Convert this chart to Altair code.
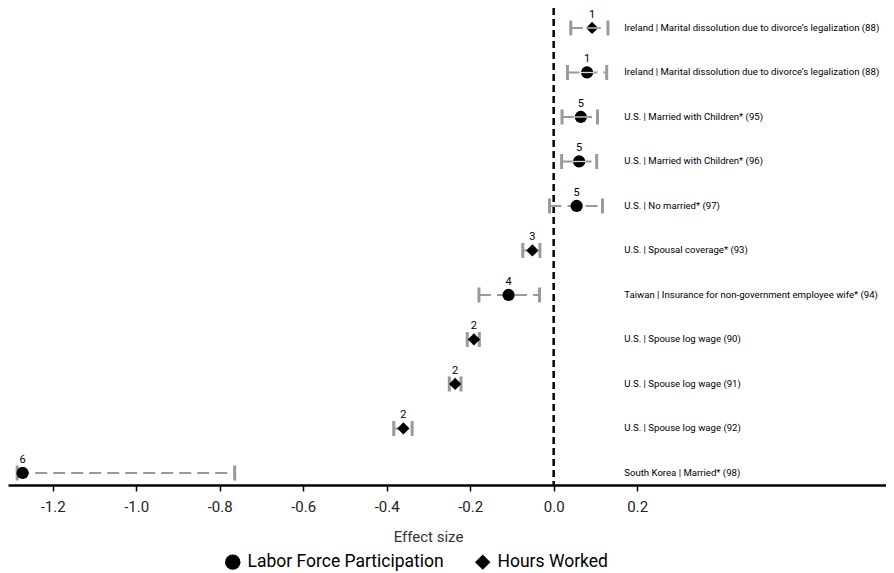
import altair as alt
import pandas as pd

# ---- data (top to bottom) ----
rows = [1, 2, 3, 4, 5, 6, 7, 8, 9, 10, 11]
studies = [
    "Ireland | Marital dissolution due to divorce\u2019s legalization (88)",
    "Ireland | Marital dissolution due to divorce\u2019s legalization (88)",
    "U.S. | Married with Children* (95)",
    "U.S. | Married with Children* (96)",
    "U.S. | No married* (97)",
    "U.S. | Spousal coverage* (93)",
    "Taiwan | Insurance for non-government employee wife* (94)",
    "U.S. | Spouse log wage (90)",
    "U.S. | Spouse log wage (91)",
    "U.S. | Spouse log wage (92)",
    "South Korea | Married* (98)",
]
outcomes = [
    "Hours Worked", "Labor Force Participation", "Labor Force Participation",
    "Labor Force Participation", "Labor Force Participation", "Hours Worked",
    "Labor Force Participation", "Hours Worked", "Hours Worked", "Hours Worked",
    "Labor Force Participation",
]
effects = [0.092, 0.080, 0.065, 0.061, 0.055, -0.051, -0.108, -0.191, -0.236, -0.360, -1.272]
lowers = [0.041, 0.033, 0.020, 0.019, -0.010, -0.074, -0.179, -0.207, -0.250, -0.383, -1.285]
uppers = [0.130, 0.127, 0.105, 0.103, 0.117, -0.033, -0.034, -0.178, -0.222, -0.339, -0.764]
counts = ["1", "1", "5", "5", "5", "3", "4", "2", "2", "2", "6"]
x_ticks = [-1.2, -1.0, -0.8, -0.6, -0.4, -0.2, 0.0, 0.2]
legend_order = ["Labor Force Participation", "Hours Worked"]
label_x = 0.169

df = pd.DataFrame({
    "row": rows, "study": studies, "outcome": outcomes, "effect": effects,
    "lower": lowers, "upper": uppers, "count": counts,
})
df["label_x"] = label_x
zero_df = pd.DataFrame({"zero": [0.0]})

FONT = "Roboto, sans-serif"
GRAY = "#9a9a9a"

xscale = alt.Scale(domain=[-1.307, 0.796], nice=False, zero=False)
yscale = alt.Scale(domain=[0.551, 11.27], reverse=True, nice=False, zero=False)

xaxis = alt.Axis(
    values=x_ticks,
    labelExpr="datum.value < 0 ? '-' + format(-datum.value, '.1f') : format(datum.value, '.1f')",
    title="Effect size", grid=False,
    domainColor="black", domainWidth=2.5,
    tickColor="black", tickWidth=1.5, tickSize=6,
    labelFontSize=15, labelFont=FONT, labelColor="#222", labelPadding=8,
    titleFontSize=15, titleFont=FONT, titleFontWeight="normal", titleColor="#333",
    titleX=420, titleY=51, titleBaseline="middle", titleAlign="center",
)

base = alt.Chart(df)
Y = alt.Y("row:Q", scale=yscale, axis=None)

zero_line = alt.Chart(zero_df).mark_rule(
    color="black", strokeWidth=2.5, strokeDash=[7, 4]
).encode(x=alt.X("zero:Q", scale=xscale, axis=xaxis))

whisker = base.mark_rule(color=GRAY, strokeWidth=2, strokeDash=[12, 6]).encode(
    x=alt.X("lower:Q", scale=xscale), x2="upper:Q", y=Y
)
cap_lo = base.mark_tick(orient="vertical", thickness=3, size=15, color=GRAY, opacity=1).encode(
    x=alt.X("lower:Q", scale=xscale), y=Y
)
cap_hi = base.mark_tick(orient="vertical", thickness=3, size=15, color=GRAY, opacity=1).encode(
    x=alt.X("upper:Q", scale=xscale), y=Y
)
points = base.mark_point(filled=True, opacity=1, color="black", size=150).encode(
    x=alt.X("effect:Q", scale=xscale),
    y=Y,
    shape=alt.Shape(
        "outcome:N",
        scale=alt.Scale(domain=legend_order, range=["circle", "diamond"]),
        legend=alt.Legend(
            title=None, orient="none", legendX=216, legendY=545,
            direction="horizontal", symbolSize=240,
            symbolFillColor="black", symbolStrokeColor="black", symbolStrokeWidth=0,
            labelFontSize=17.5, labelFont=FONT, labelColor="black", labelLimit=400,
            columnPadding=30, labelOffset=6, padding=0,
        ),
    ),
)
stripe = base.transform_filter("datum.row <= 4").transform_calculate(
    s0="datum.effect - 0.016", s1="datum.effect + 0.016"
).mark_rule(color="#dcdcdc", strokeWidth=1.3).encode(
    x=alt.X("s0:Q", scale=xscale), x2="s1:Q", y=Y
)
count_text = base.mark_text(dy=-13, fontSize=11, font=FONT, color="black").encode(
    x=alt.X("effect:Q", scale=xscale), y=Y, text="count:N"
)
study_text = base.mark_text(align="left", baseline="middle", fontSize=9.6, font=FONT, color="black").encode(
    x=alt.X("label_x:Q", scale=xscale), y=Y, text="study:N"
)

chart = alt.layer(
    zero_line, whisker, cap_lo, cap_hi, points, stripe, count_text, study_text
).properties(
    width=878, height=477,
    autosize=alt.AutoSizeParams(type="none"),
    padding={"left": 0, "top": 0, "right": 0, "bottom": 88},
).configure(background="white").configure_view(stroke=None)

chart.save("out.html", embed_options={"renderer": "svg", "actions": False})
